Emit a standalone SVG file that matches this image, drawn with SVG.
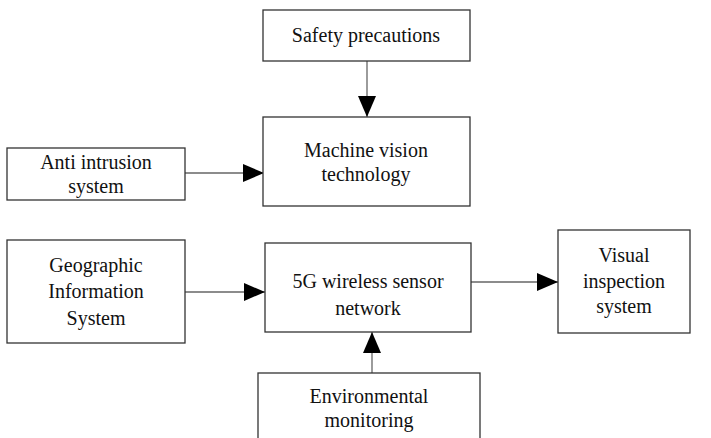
<svg xmlns="http://www.w3.org/2000/svg" width="711" height="438" viewBox="0 0 711 438">
<defs>
<marker id="ah" markerWidth="21" markerHeight="18" refX="21" refY="9" orient="auto" markerUnits="userSpaceOnUse">
<path d="M0,0 L21,9 L0,18 Z" fill="#000"/>
</marker>
</defs>
<style>
.box{fill:#fff;stroke:#333;stroke-width:1.3}
.t{font-family:"Liberation Serif","Times New Roman",serif;font-size:20px;fill:#111;text-anchor:middle}
.c{stroke:#666;stroke-width:1.3;fill:none;marker-end:url(#ah)}
</style>
<rect width="711" height="438" fill="#fff"/>
<g id="connectors">
<line class="c" x1="367" y1="61" x2="367" y2="117"/>
<line class="c" x1="185" y1="173" x2="264" y2="173"/>
<line class="c" x1="185" y1="292" x2="265" y2="292"/>
<line class="c" x1="471" y1="282" x2="558" y2="282"/>
<line class="c" x1="372" y1="373" x2="372" y2="332"/>
</g>
<g id="safety">
<rect class="box" x="263" y="10" width="207" height="51"/>
<text class="t" x="366" y="42">Safety precautions</text>
</g>
<g id="machine">
<rect class="box" x="263" y="117" width="207" height="89"/>
<text class="t" x="366" y="157">Machine vision</text>
<text class="t" x="366" y="181">technology</text>
</g>
<g id="anti">
<rect class="box" x="7" y="148" width="178" height="52"/>
<text class="t" x="96" y="169">Anti intrusion</text>
<text class="t" x="96" y="193">system</text>
</g>
<g id="geo">
<rect class="box" x="7" y="240" width="178" height="103"/>
<text class="t" x="96" y="272">Geographic</text>
<text class="t" x="96" y="298">Information</text>
<text class="t" x="96" y="325">System</text>
</g>
<g id="fiveg">
<rect class="box" x="265" y="243" width="206" height="89"/>
<text class="t" x="368" y="288">5G wireless sensor</text>
<text class="t" x="368" y="315">network</text>
</g>
<g id="visual">
<rect class="box" x="558" y="230" width="132" height="103"/>
<text class="t" x="624" y="262">Visual</text>
<text class="t" x="624" y="288">inspection</text>
<text class="t" x="624" y="313">system</text>
</g>
<g id="env">
<rect class="box" x="258" y="373" width="222" height="80"/>
<text class="t" x="369" y="403">Environmental</text>
<text class="t" x="369" y="427">monitoring</text>
</g>
</svg>
